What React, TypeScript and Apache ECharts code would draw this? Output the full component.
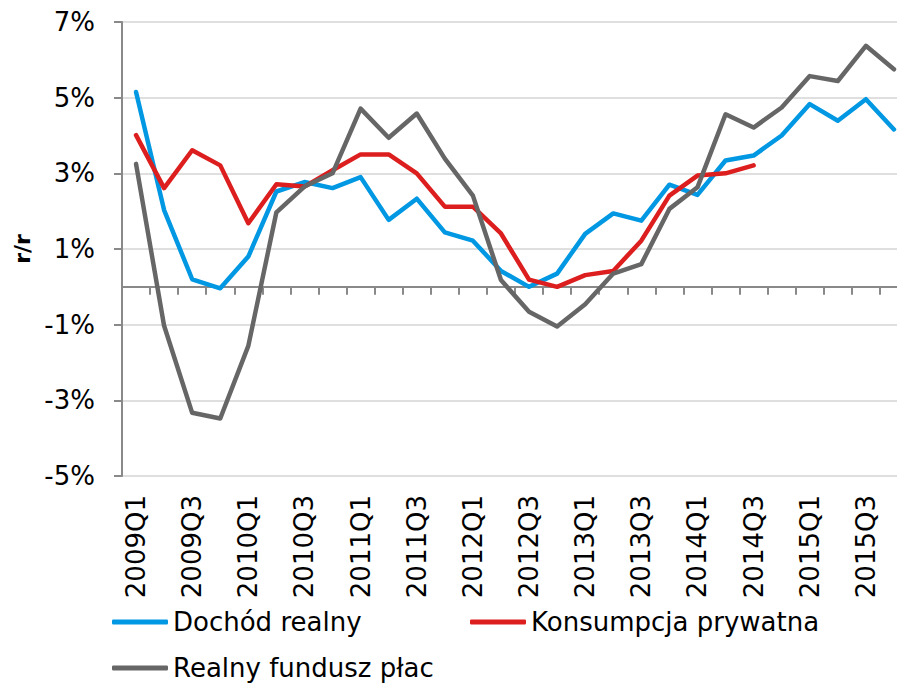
import React, { useEffect, useRef } from "react";
import * as echarts from "echarts";

const categories = [
  "2009Q1", "2009Q2", "2009Q3", "2009Q4",
  "2010Q1", "2010Q2", "2010Q3", "2010Q4",
  "2011Q1", "2011Q2", "2011Q3", "2011Q4",
  "2012Q1", "2012Q2", "2012Q3", "2012Q4",
  "2013Q1", "2013Q2", "2013Q3", "2013Q4",
  "2014Q1", "2014Q2", "2014Q3", "2014Q4",
  "2015Q1", "2015Q2", "2015Q3", "2015Q4",
];

const dochodRealny = [
  5.15, 2.03, 0.2, -0.04, 0.8, 2.52, 2.77, 2.61, 2.9, 1.77, 2.33, 1.44, 1.22, 0.42,
  0.0, 0.35, 1.4, 1.94, 1.75, 2.7, 2.43, 3.34, 3.47, 4.0, 4.83, 4.39, 4.96, 4.16,
];

const konsumpcjaPrywatna = [
  4.01, 2.61, 3.61, 3.21, 1.68, 2.71, 2.65, 3.08, 3.5, 3.5, 3.0, 2.12, 2.12, 1.41,
  0.19, 0.0, 0.31, 0.42, 1.22, 2.41, 2.94, 3.0, 3.21,
];

const realnyFunduszPlac = [
  3.25, -1.03, -3.33, -3.48, -1.56, 1.97, 2.65, 3.0, 4.71, 3.94, 4.58, 3.39, 2.41, 0.18,
  -0.66, -1.05, -0.46, 0.35, 0.6, 2.06, 2.63, 4.56, 4.21, 4.74, 5.57, 5.44, 6.37, 5.75,
];

const seriesNames = ["Dochód realny", "Konsumpcja prywatna", "Realny fundusz płac"];
const yMin = -5;
const yMax = 7;
const yStep = 2;

const FONT = "DejaVu Sans";
const COLORS = ["#0097E3", "#DD1E1E", "#666666"];

export default function App() {
  const ref = useRef<HTMLDivElement>(null);

  useEffect(() => {
    if (!ref.current) return;
    const chart = echarts.init(ref.current, null, { renderer: "svg" });
    const legendText = {
      fontFamily: FONT,
      fontSize: 26,
      lineHeight: 26,
      color: "#000",
    };
    const legendBase = {
      orient: "horizontal",
      padding: 0,
      itemWidth: 56,
      itemHeight: 5,
      icon: "roundRect",
      textStyle: legendText,
      selectedMode: false,
    };
    chart.setOption({
      animation: false,
      backgroundColor: "#fff",
      textStyle: { fontFamily: FONT },
      grid: { left: 122, top: 22, width: 786, height: 454, containLabel: false },
      legend: [
        { ...legendBase, left: 112, top: 609, data: [seriesNames[0]] },
        { ...legendBase, left: 470, top: 609, data: [seriesNames[1]] },
        { ...legendBase, left: 112, top: 655, data: [seriesNames[2]] },
      ],
      xAxis: [
        {
          type: "category",
          data: categories,
          position: "bottom",
          boundaryGap: true,
          axisLine: { show: true, onZero: true, lineStyle: { color: "#898989", width: 2 } },
          axisTick: { show: true, interval: 0, length: 8, lineStyle: { color: "#898989", width: 2 } },
          axisLabel: { show: false },
          splitLine: { show: false },
        },
        {
          type: "category",
          data: categories,
          position: "bottom",
          boundaryGap: true,
          axisLine: { show: false, onZero: false },
          axisTick: { show: false },
          axisLabel: {
            show: true,
            interval: 1,
            rotate: 90,
            margin: 19,
            fontFamily: FONT,
            fontSize: 26,
            color: "#000",
          },
          splitLine: { show: false },
        },
      ],
      yAxis: {
        type: "value",
        min: yMin,
        max: yMax,
        interval: yStep,
        name: "r/r",
        nameLocation: "middle",
        nameGap: 86,
        nameTextStyle: { fontFamily: FONT, fontSize: 22, fontWeight: "bold", color: "#000" },
        axisLine: { show: true, lineStyle: { color: "#898989", width: 2 } },
        axisTick: { show: true, length: 8, lineStyle: { color: "#898989", width: 2 } },
        axisLabel: {
          margin: 27,
          fontFamily: FONT,
          fontSize: 26,
          color: "#000",
          formatter: (v: number) => `${v}%`,
        },
        splitLine: { show: true, lineStyle: { color: "#d4d4d4", width: 1.5 } },
      },
      series: [
        { name: seriesNames[0], data: dochodRealny, color: COLORS[0] },
        { name: seriesNames[1], data: konsumpcjaPrywatna, color: COLORS[1] },
        { name: seriesNames[2], data: realnyFunduszPlac, color: COLORS[2] },
      ].map((s) => ({
        type: "line",
        name: s.name,
        data: s.data,
        xAxisIndex: 0,
        symbol: "none",
        smooth: false,
        itemStyle: { color: s.color },
        lineStyle: { color: s.color, width: 4.5, cap: "round", join: "round" },
      })),
    });
    return () => chart.dispose();
  }, []);

  return (
    <div
      style={{
        position: "fixed",
        left: 0,
        top: 0,
        width: 897,
        height: 683,
        overflow: "hidden",
        background: "#fff",
      }}
    >
      <div ref={ref} style={{ width: 912, height: 683 }} />
    </div>
  );
}
